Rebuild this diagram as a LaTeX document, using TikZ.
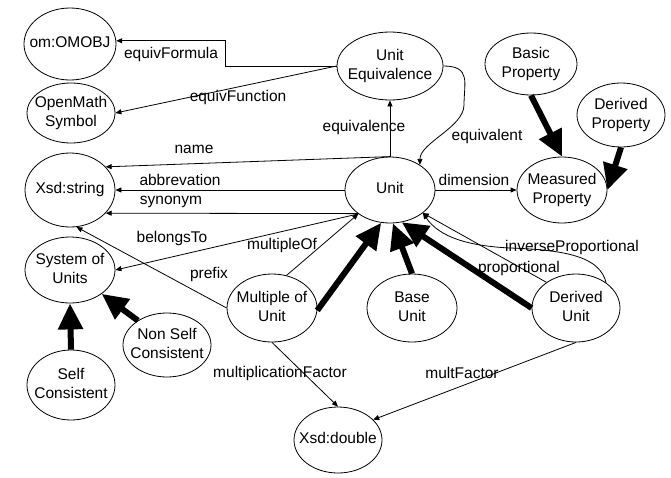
\documentclass[tikz,border=0pt]{standalone}
\usepackage{fontspec}
\setmainfont{Liberation Sans}
\usetikzlibrary{shapes.geometric,arrows.meta}
% centred text that does not widen the ellipse around it
\newcommand\ctext[1]{\makebox[0pt]{\begin{tabular}{@{}c@{}}#1\end{tabular}}}
\begin{document}
\begin{tikzpicture}[x=1pt,y=1pt,
  cls/.style={ellipse, draw, line width=0.8pt, inner sep=0pt,
              font=\fontsize{15.5}{19}\selectfont},
  lbl/.style={inner sep=0pt, font=\fontsize{15.5}{19}\selectfont},
  rel/.style={line width=0.8pt, -{Triangle[length=6pt,width=5pt]}},
  isa/.style={line width=6pt, -{Triangle[length=26pt,width=24pt]}}]
\useasboundingbox (0,0) rectangle (671,-477);

% classes
\node[cls,minimum width=92pt,minimum height=72pt] (om)   at (70,-44)   {\ctext{om:OMOBJ}};
\node[cls,minimum width=88pt,minimum height=60pt] (oms)  at (71,-113)  {\ctext{OpenMath\\Symbol}};
\node[cls,minimum width=90pt,minimum height=74pt] (xs)   at (70,-190)  {\ctext{Xsd:string}};
\node[cls,minimum width=90pt,minimum height=66pt] (sou)  at (70,-270)  {\ctext{System of\\Units}};
\node[cls,minimum width=88pt,minimum height=70pt] (sc)   at (71,-385)  {\ctext{Self\\Consistent}};
\node[cls,minimum width=88pt,minimum height=64pt] (nsc)  at (167,-345) {\ctext{Non Self\\Consistent}};
\node[cls,minimum width=90pt,minimum height=68pt] (mu)   at (272,-308) {\ctext{Multiple of\\Unit}};
\node[cls,minimum width=88pt,minimum height=66pt] (xd)   at (338,-440) {\ctext{Xsd:double}};
\node[cls,minimum width=90pt,minimum height=68pt] (bu)   at (412,-308) {\ctext{Base\\Unit}};
\node[cls,minimum width=88pt,minimum height=68pt] (du)   at (576,-308) {\ctext{Derived\\Unit}};
\node[cls,minimum width=90pt,minimum height=66pt] (unit) at (390,-190) {\ctext{Unit}};
\node[cls,minimum width=106pt,minimum height=68pt] (ue)  at (390,-66)  {\ctext{Unit\\Equivalence}};
\node[cls,minimum width=92pt,minimum height=62pt] (bp)   at (531,-64)  {\ctext{Basic\\Property}};
\node[cls,minimum width=88pt,minimum height=64pt] (dp)   at (621,-115) {\ctext{Derived\\Property}};
\node[cls,minimum width=90pt,minimum height=66pt] (mp)   at (562,-190) {\ctext{Measured\\Property}};

% properties
\draw[rel] (ue.west) -- ++(-111,0) |- (om.4);
\draw[rel] (ue.west) -- (oms.east);
\draw[rel] (unit.north) -- (ue.south);
\draw[rel] (ue.east) .. controls +(28,0) and +(0,22) .. (464,-105)
                     .. controls +(0,-22) and +(0,22) .. (unit.40);
\draw[rel] (unit.north) -- (xs.33);
\draw[rel] (unit.west) -- (xs.east);
\draw[rel] (unit.south west) -- (xs.-33);
\draw[rel] (unit.217) -- (sou.east);
\draw[rel] (mu.66) -- (unit.217);
\draw[rel] (mu.west) -- (xs.-80);
\draw[rel] (unit.east) -- (mp.west);
\draw[rel] (du.139) -- (unit.-35);
\draw[rel] (du.40) .. controls (600,-258) and (570,-250) .. (510,-248)
                   .. controls (470,-246) and (440,-238) .. (unit.-35);
\draw[rel] (mu.south) -- (xd.north);
\draw[rel] (du.south) -- (xd.30);

% subclass links
\draw[isa] (sc.north) -- (sou.south);
\draw[isa] (nsc.140) -- (sou.-37);
\draw[isa] (mu.-3) -- (unit.255);
\draw[isa] (bu.north) -- (unit.275);
\draw[isa] (du.west) -- (unit.290);
\draw[isa] (bp.south) -- (mp.north);
\draw[isa] (dp.south) -- (mp.east);

% property names
\node[lbl] (lEF)   at (171,-54)  {equivFormula};
\node[lbl] (lEFn)  at (238,-97)  {equivFunction};
\node[lbl] (lEqc)  at (364,-127) {equivalence};
\node[lbl] (lEqt)  at (487,-136) {equivalent};
\node[lbl] (lName) at (194,-149) {name};
\node[lbl] (lAbbr) at (180,-180) {abbrevation};
\node[lbl] (lSyn)  at (171,-202) {synonym};
\node[lbl] (lBel)  at (172,-238) {belongsTo};
\node[lbl] (lMul)  at (282,-245) {multipleOf};
\node[lbl] (lPre)  at (209,-274) {prefix};
\node[lbl] (lDim)  at (474,-180) {dimension};
\node[lbl] (lInv)  at (572,-247) {inverseProportional};
\node[lbl] (lProp) at (519,-268) {proportional};
\node[lbl] (lMF)   at (280,-373) {multiplicationFactor};
\node[lbl] (lMFt)  at (462,-373) {multFactor};
\end{tikzpicture}
\end{document}
